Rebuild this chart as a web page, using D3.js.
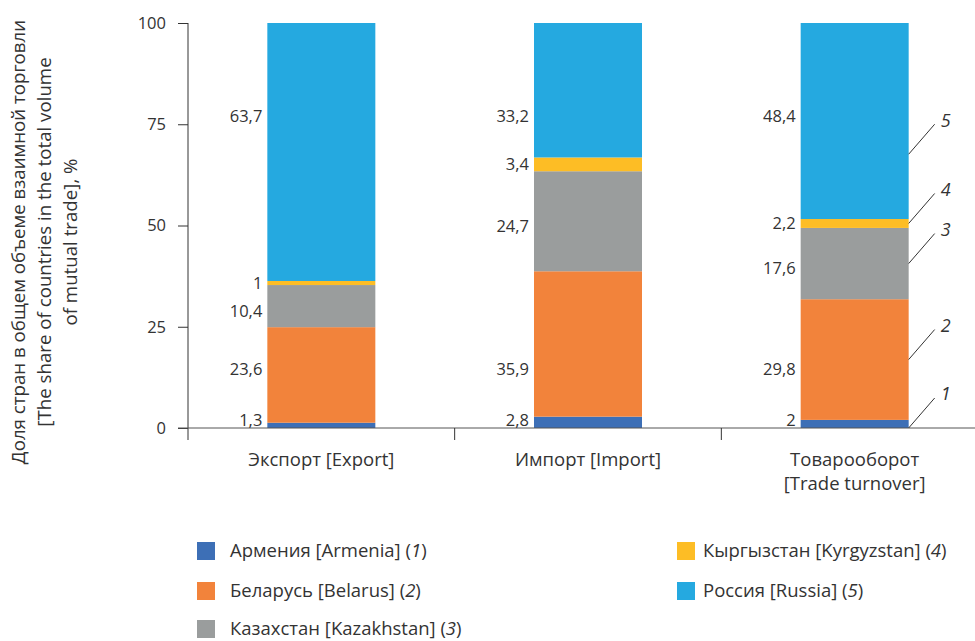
<!DOCTYPE html>
<html>
<head>
<meta charset="utf-8">
<script src="https://cdn.jsdelivr.net/npm/d3@7"></script>
<style>
    body { margin: 0; background: #fff; }
    text { font-family: "Open Sans", "Noto Sans", sans-serif; fill: #333; }
</style>
</head>
<body>
<svg id="chart" width="975" height="641"></svg>
<script>
// categories (bars)
const categories = ["Экспорт [Export]", "Импорт [Import]", "Товарооборот [Trade turnover]"];
const categoryLines = [["Экспорт [Export]"], ["Импорт [Import]"], ["Товарооборот", "[Trade turnover]"]];

// series (bottom to top)
const countries = ["Армения", "Беларусь", "Казахстан", "Кыргызстан", "Россия"];
const legendLabels = [
    ["Армения [Armenia] (", "1", ")"],
    ["Беларусь [Belarus] (", "2", ")"],
    ["Казахстан [Kazakhstan] (", "3", ")"],
    ["Кыргызстан [Kyrgyzstan] (", "4", ")"],
    ["Россия [Russia] (", "5", ")"]
];
const colors = ["#3d6fb6", "#f2833b", "#9a9d9d", "#fdbd25", "#25a9e0"];

// values, %
const armenia = [1.3, 2.8, 2];
const belarus = [23.6, 35.9, 29.8];
const kazakhstan = [10.4, 24.7, 17.6];
const kyrgyzstan = [1, 3.4, 2.2];
const russia = [63.7, 33.2, 48.4];

const yTicks = [0, 25, 50, 75, 100];

class Chart {
    constructor() {
        this.svg = d3.select("#chart");
        this.table = categories.map((c, i) => ({
            category: c,
            "Армения": armenia[i],
            "Беларусь": belarus[i],
            "Казахстан": kazakhstan[i],
            "Кыргызстан": kyrgyzstan[i],
            "Россия": russia[i]
        }));

        this.y = d3.scaleLinear().domain([0, 100]).range([428, 23]);
        this.x = d3.scaleBand()
            .domain(categories)
            .range([188, 988])
            .paddingInner(0.595)
            .paddingOuter(0.2975);

        this.series = d3.stack().keys(countries)(this.table);

        this.DrawBars();
        this.DrawAxes();
        this.DrawLabels();
        this.DrawCallouts();
        this.DrawLegend();
    }

    DrawBars() {
        let groups = this.svg.append("g")
            .selectAll("g")
            .data(this.series)
            .join("g")
            .attr("fill", (d, i) => colors[i]);

        groups.selectAll("rect")
            .data(d => d)
            .join("rect")
            .attr("x", d => this.x(d.data.category))
            .attr("width", this.x.bandwidth())
            .attr("y", d => this.y(d[1]))
            .attr("height", d => this.y(d[0]) - this.y(d[1]));
    }

    DrawAxes() {
        let yAxis = this.svg.append("g")
            .attr("transform", "translate(188,0)")
            .call(d3.axisLeft(this.y).tickValues(yTicks).tickSize(10).tickPadding(12));
        yAxis.select(".domain").remove();
        yAxis.selectAll("line").attr("stroke", "#333");
        yAxis.selectAll("text")
            .style("font-family", "Open Sans")
            .style("font-size", "16.5px")
            .attr("fill", "#333");

        // vertical axis line (runs a bit below the baseline)
        this.svg.append("line")
            .attr("x1", 188).attr("x2", 188)
            .attr("y1", this.y(100)).attr("y2", this.y(0) + 12)
            .attr("stroke", "#333");

        // baseline
        this.svg.append("line")
            .attr("x1", 178).attr("x2", 975)
            .attr("y1", this.y(0)).attr("y2", this.y(0))
            .attr("stroke", "#555");

        // category separators
        let step = this.x.step();
        let start = this.x.range()[0];
        this.svg.append("g")
            .selectAll("line")
            .data([1, 2])
            .join("line")
            .attr("x1", i => start + i * step)
            .attr("x2", i => start + i * step)
            .attr("y1", this.y(0))
            .attr("y2", this.y(0) + 12)
            .attr("stroke", "#333");

        // category labels
        let cats = this.svg.append("g")
            .selectAll("text")
            .data(categories)
            .join("text")
            .attr("x", d => this.x(d) + this.x.bandwidth() / 2)
            .attr("y", 466)
            .attr("text-anchor", "middle")
            .style("font-size", "18.5px");
        cats.each(function(d, i) {
            categoryLines[i].forEach((line, j) => {
                d3.select(this).append("tspan")
                    .attr("x", d3.select(this).attr("x"))
                    .attr("dy", j == 0 ? 0 : 24)
                    .text(line);
            });
        });

        // y title
        let title = this.svg.append("text")
            .attr("transform", "translate(18,242) rotate(-90)")
            .attr("text-anchor", "middle")
            .style("font-size", "18.7px");
        let titleLines = [
            "Доля стран в общем объеме взаимной торговли",
            "[The share of countries in the total volume",
            "of mutual trade], %"
        ];
        titleLines.forEach((line, j) => {
            title.append("tspan")
                .attr("x", 0)
                .attr("dy", j == 0 ? 7 : 26)
                .text(line);
        });
    }

    DrawLabels() {
        let y = this.y;
        let x = this.x;
        let fmt = v => String(v).replace(".", ",");

        let labels = [];
        this.series.forEach(function(s, si) {
            s.forEach(function(d) {
                let val = d.data[s.key];
                let py = y((d[0] + d[1]) / 2);
                // large Russia / Belarus labels sit on a common row
                if (s.key == "Россия") py = y(77);
                if (s.key == "Беларусь") py = y(14.5);
                if (s.key == "Казахстан") py += 5;
                if (s.key == "Армения") py = y(0) - 8;
                labels.push({ x: x(d.data.category) - 5, y: py, text: fmt(val) });
            });
        });

        this.svg.append("g")
            .selectAll("text")
            .data(labels)
            .join("text")
            .attr("x", d => d.x)
            .attr("y", d => d.y)
            .attr("dy", "0.35em")
            .attr("text-anchor", "end")
            .style("font-size", "16.5px")
            .text(d => d.text);
    }

    DrawCallouts() {
        let y = this.y;
        let last = categories[categories.length - 1];
        let xr = this.x(last) + this.x.bandwidth();

        let points = this.series.map(function(s, si) {
            let d = s.find(e => e.data.category == last);
            let v = Math.min((d[0] + d[1]) / 2, d[0] + 16);
            if (si == 0) v = d[0];
            return { y: y(v), n: String(si + 1) };
        });

        let g = this.svg.append("g");
        g.selectAll("line")
            .data(points)
            .join("line")
            .attr("x1", xr)
            .attr("y1", d => d.y)
            .attr("x2", xr + 26)
            .attr("y2", d => d.y - 30)
            .attr("stroke", "#333")
            .attr("stroke-width", 1);

        g.selectAll("text")
            .data(points)
            .join("text")
            .attr("x", xr + 32)
            .attr("y", d => d.y - 34)
            .attr("dy", "0.35em")
            .style("font-size", "18px")
            .style("font-style", "italic")
            .text(d => d.n);
    }

    DrawLegend() {
        // [square x, text x, center y]
        let positions = [[197, 230, 551], [197, 230, 591], [197, 230, 629], [677, 703, 551], [677, 703, 591]];

        let items = this.svg.append("g")
            .selectAll("g")
            .data(legendLabels)
            .join("g")
            .attr("transform", (d, i) => `translate(0,${positions[i][2]})`);

        items.append("rect")
            .attr("x", (d, i) => positions[i][0])
            .attr("y", -9)
            .attr("width", 18)
            .attr("height", 18)
            .attr("fill", (d, i) => colors[i]);

        let t = items.append("text")
            .attr("x", (d, i) => positions[i][1])
            .attr("y", 0)
            .attr("dy", "0.35em")
            .style("font-size", "18.5px");
        t.append("tspan").text(d => d[0]);
        t.append("tspan").style("font-style", "italic").text(d => d[1]);
        t.append("tspan").text(d => d[2]);
    }
}

new Chart();
</script>
</body>
</html>
